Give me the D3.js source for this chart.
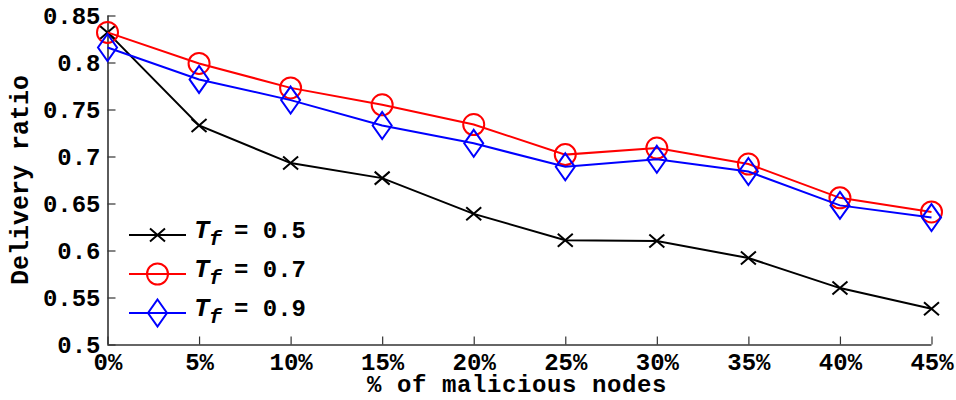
<!DOCTYPE html>
<html>
<head>
<meta charset="utf-8">
<script src="https://cdn.jsdelivr.net/npm/d3@7"></script>
<style>
  html, body { margin: 0; padding: 0; background: #fff; }
  svg text { font-family: "Liberation Mono", "DejaVu Sans Mono", monospace; font-weight: bold; fill: #000; }
</style>
</head>
<body>
<svg id="chart" width="956" height="400"></svg>
<script>
// Share of malicious nodes (%) along the x axis
const malicious = [0, 5, 10, 15, 20, 25, 30, 35, 40, 45];
// Delivery ratio for each trust threshold T_f
const tf05 = [0.832, 0.733, 0.693, 0.677, 0.639, 0.611, 0.610, 0.592, 0.560, 0.538];
const tf07 = [0.832, 0.799, 0.773, 0.755, 0.734, 0.702, 0.709, 0.692, 0.656, 0.641];
const tf09 = [0.816, 0.782, 0.760, 0.733, 0.714, 0.689, 0.697, 0.684, 0.648, 0.635];
const yTicks = [0.5, 0.55, 0.6, 0.65, 0.7, 0.75, 0.8, 0.85];
const seriesNames = ["0.5", "0.7", "0.9"];

const svg = d3.select("#chart");
const plotLeft = 107.5, plotRight = 931.5, plotTop = 15.5, plotBottom = 344.5;

const x = d3.scaleLinear().domain([0, 45]).range([plotLeft, plotRight]);
const y = d3.scaleLinear().domain([0.5, 0.85]).range([plotBottom, plotTop]);

const axisColor = "#333";

// Axes with inward ticks
const gx = svg.append("g").attr("transform", `translate(0,${plotBottom})`)
  .call(d3.axisBottom(x).tickValues(malicious).tickSize(-8).tickFormat(d => d + "%"));
const gy = svg.append("g").attr("transform", `translate(${plotLeft},0)`)
  .call(d3.axisLeft(y).tickValues(yTicks).tickSize(-8).tickPadding(7).tickFormat(d => String(+d.toFixed(2))));
[gx, gy].forEach(g => {
  g.select(".domain").attr("stroke", axisColor).attr("stroke-width", 1.6);
  g.selectAll(".tick line").attr("stroke", axisColor).attr("stroke-width", 1.2);
  g.selectAll(".tick text").attr("fill", "#000").style("font-size", "24px");
});
gy.select(".domain").attr("d", `M0.5,${plotTop}V${plotBottom}`);
gx.select(".domain").attr("d", `M${plotLeft},0.5H${plotRight}`);
gx.selectAll(".tick text").attr("y", 25.5).attr("dy", 0);

// Axis titles
svg.append("text").attr("x", 367).attr("y", 392)
  .style("font-size", "24px").style("letter-spacing", "0.6px").text("% of malicious nodes");
svg.append("text").attr("transform", `translate(28,180) rotate(-90)`)
  .attr("text-anchor", "middle").style("font-size", "25px").text("Delivery ratio");

// Marker shapes
function drawMarker(g, kind, color) {
  if (kind === "x") {
    g.append("path").attr("d", "M-7.5,-6.5L7.5,6.5M-7.5,6.5L7.5,-6.5")
      .attr("stroke", color).attr("stroke-width", 2).attr("fill", "none");
  } else if (kind === "o") {
    g.append("circle").attr("r", 10.5).attr("stroke", color).attr("stroke-width", 2).attr("fill", "none");
  } else {
    g.append("path").attr("d", "M0,-13.5L9.5,0L0,13.5L-9.5,0Z")
      .attr("stroke", color).attr("stroke-width", 2).attr("fill", "none");
  }
}

const series = [
  { values: tf05, color: "#000", kind: "x", name: seriesNames[0] },
  { values: tf07, color: "#ff0000", kind: "o", name: seriesNames[1] },
  { values: tf09, color: "#0000ff", kind: "d", name: seriesNames[2] }
];

const line = d3.line().x((d, i) => x(malicious[i])).y(d => y(d));

series.forEach(s => {
  svg.append("path").datum(s.values).attr("d", line)
    .attr("fill", "none").attr("stroke", s.color).attr("stroke-width", 2);
  s.values.forEach((v, i) => {
    const g = svg.append("g").attr("transform", `translate(${x(malicious[i])},${y(v)})`);
    drawMarker(g, s.kind, s.color);
  });
});

// Legend
const legendRows = [235, 274, 313];
series.forEach((s, i) => {
  const ly = legendRows[i];
  svg.append("line").attr("x1", 129).attr("x2", 186).attr("y1", ly).attr("y2", ly)
    .attr("stroke", s.color).attr("stroke-width", 2);
  drawMarker(svg.append("g").attr("transform", `translate(157.5,${ly})`), s.kind, s.color);
  svg.append("text").attr("x", 194).attr("y", ly + 2.5)
    .style("font-size", "26px").style("font-style", "italic").text("T");
  svg.append("text").attr("x", 209).attr("y", ly + 10)
    .style("font-size", "21px").style("font-style", "italic").text("f");
  svg.append("text").attr("x", 234).attr("y", ly + 2.5)
    .style("font-size", "24px").text("= " + s.name);
});
</script>
</body>
</html>
